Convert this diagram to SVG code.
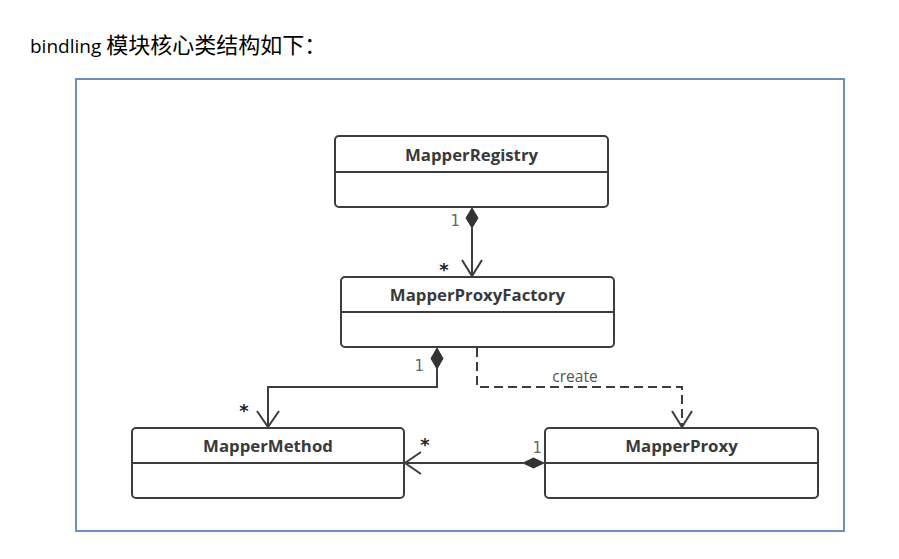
<svg xmlns="http://www.w3.org/2000/svg" width="899" height="559" viewBox="0 0 899 559">
<defs>
<style>
.title{font-family:"Open Sans","Noto Sans CJK SC",sans-serif;font-size:19px;fill:#000}
.cjk{font-family:"Noto Sans CJK SC",sans-serif;font-size:22px}
.cls rect{fill:#fff;stroke:#3d3d3d;stroke-width:2}
.cls line{stroke:#3d3d3d;stroke-width:2}
.name{font-family:"Open Sans","DejaVu Sans",sans-serif;font-weight:bold;font-size:16.8px;fill:#3a3a3a;text-anchor:middle}
.edge{fill:none;stroke:#3d3d3d;stroke-width:2}
.dash{stroke-dasharray:9 5}
.dia{fill:#333;stroke:#333;stroke-width:1}
.one{font-family:"DejaVu Sans Mono","Liberation Mono",monospace;font-size:15px;fill:#666;text-anchor:middle}
.star{font-family:"DejaVu Sans",sans-serif;font-weight:bold;font-size:18px;fill:#222;text-anchor:middle}
.lbl{font-family:"Open Sans","DejaVu Sans",sans-serif;font-size:15.5px;fill:#555;text-anchor:middle}
</style>
</defs>
<rect width="899" height="559" fill="#fff"/>
<text class="title" x="30" y="53">bindling <tspan class="cjk">模块核心类结构如下：</tspan></text>
<rect id="frame" x="76" y="79" width="768" height="452" fill="none" stroke="#6d8ebf" stroke-width="2"/>

<g id="MapperRegistry" class="cls">
<rect x="335" y="136" width="273" height="71" rx="4"/>
<line x1="335" y1="172" x2="608" y2="172"/>
<text class="name" x="471.5" y="161">MapperRegistry</text>
</g>
<g id="MapperProxyFactory" class="cls">
<rect x="341" y="277" width="273" height="70" rx="4"/>
<line x1="341" y1="312" x2="614" y2="312"/>
<text class="name" x="477.5" y="301">MapperProxyFactory</text>
</g>
<g id="MapperMethod" class="cls">
<rect x="132" y="428" width="272" height="70" rx="4"/>
<line x1="132" y1="463" x2="404" y2="463"/>
<text class="name" x="268" y="452">MapperMethod</text>
</g>
<g id="MapperProxy" class="cls">
<rect x="545" y="428" width="273" height="70" rx="4"/>
<line x1="545" y1="463" x2="818" y2="463"/>
<text class="name" x="681.5" y="452">MapperProxy</text>
</g>

<g id="connectors">
<path class="edge" d="M472 228 V276"/>
<path class="edge" d="M462 260 L472 276 L482 260"/>
<path class="dia" d="M472 208 L478 218 L472 228 L466 218 Z"/>
<text class="one" x="455" y="226">1</text>
<text class="star" x="444" y="276">*</text>

<path class="edge" d="M437 369 V387 H268 V427"/>
<path class="edge" d="M257 411 L268 427 L279 411"/>
<path class="dia" d="M437 348 L443 358.5 L437 369 L431 358.5 Z"/>
<text class="one" x="419" y="371">1</text>
<text class="star" x="244" y="417">*</text>

<path class="edge dash" d="M477 348 V387 H682 V426"/>
<path class="edge" d="M672 411 L682 427 L692 411"/>
<text class="lbl" x="575" y="382">create</text>

<path class="edge" d="M523 463 H405"/>
<path class="edge" d="M421 452 L405 463 L421 474"/>
<path class="dia" d="M544 463 L533.5 458 L523 463 L533.5 468 Z"/>
<text class="one" x="537" y="453">1</text>
<text class="star" x="425" y="451">*</text>
</g>
</svg>
